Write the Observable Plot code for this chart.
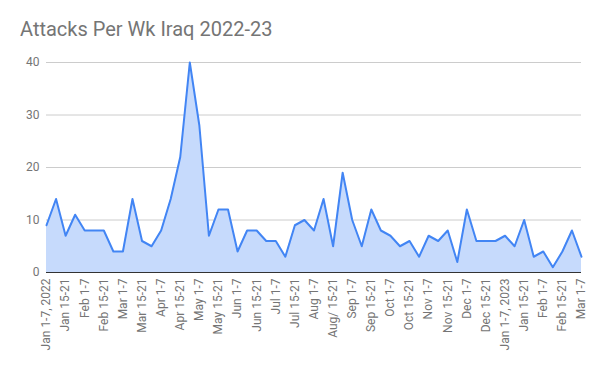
<!DOCTYPE html>
<html>
<head>
<meta charset="utf-8">
<script src="https://cdn.jsdelivr.net/npm/d3@7"></script>
<script src="https://cdn.jsdelivr.net/npm/@observablehq/plot@0.6"></script>
<style>
  body { margin: 0; background: #fff; font-family: Roboto, "Noto Sans", sans-serif; }
  #title { height: 50px; box-sizing: border-box; padding: 18px 0 0 20px; font-size: 20px; line-height: 23px; color: #757575; }
</style>
</head>
<body>
<div id="title">Attacks Per Wk Iraq 2022-23</div>
<div id="chart"></div>
<script>
// Attacks per week (57 weeks, Jan 1-7 2022 to Mar 1-7 2023)
const attacks = [9,14,7,11,8,8,8,4,4,14,6,5,8,14,22,40,28,7,12,12,4,8,8,6,6,3,9,10,8,14,5,19,10,5,12,8,7,5,6,3,7,6,8,2,12,6,6,6,7,5,10,3,4,1,4,8,3];
// Tick labels shown on every other week
const tickLabels = ["Jan 1-7, 2022","Jan 15-21","Feb 1-7","Feb 15-21","Mar 1-7","Mar 15-21","Apr 1-7","Apr 15-21","May 1-7","May 15-21","Jun 1-7","Jun 15-21","Jul 1-7","Jul 15-21","Aug 1-7","Aug/ 15-21","Sep 1-7","Sep 15-21","Oct 1-7","Oct 15-21","Nov 1-7","Nov 15-21","Dec 1-7","Dec 15-21","Jan 1-7, 2023","Jan 15-21","Feb 1-7","Feb 15-21","Mar 1-7"];
const yTicks = [0,10,20,30,40];

const data = attacks.map((v, i) => ({i, v}));
const tickPos = tickLabels.map((_, k) => k * 2);

const chart = Plot.plot({
  width: 600,
  height: 321,
  marginTop: 12,
  marginBottom: 99,
  marginLeft: 46,
  marginRight: 19,
  style: {fontFamily: "Roboto, sans-serif", fontSize: "12px", color: "#757575", background: "#fff"},
  x: {domain: [0, attacks.length - 1], ticks: tickPos, tickFormat: d => tickLabels[d / 2], tickRotate: -90, tickSize: 0, tickPadding: 6, label: null},
  y: {domain: [0, 40], ticks: yTicks, tickSize: 0, tickPadding: 7, label: null},
  marks: [
    Plot.ruleY(yTicks.slice(1), {stroke: "#cccccc", strokeWidth: 1}),
    Plot.areaY(data, {x: "i", y: "v", fill: "#c6dafc"}),
    Plot.lineY(data, {x: "i", y: "v", stroke: "#4285f4", strokeWidth: 2}),
    Plot.ruleY([0], {stroke: "#333333", strokeWidth: 1})
  ]
});
document.getElementById("chart").appendChild(chart);
</script>
</body>
</html>
